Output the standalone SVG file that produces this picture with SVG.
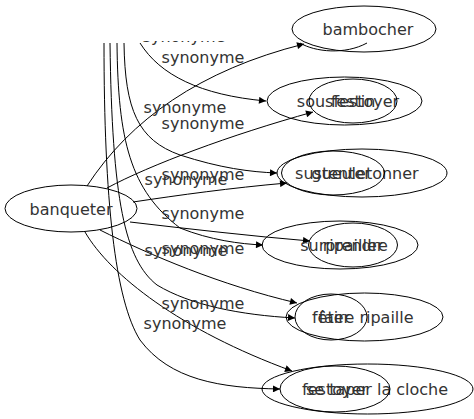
<svg xmlns="http://www.w3.org/2000/svg" width="474" height="419" viewBox="0 0 474 419">
<style>
.n{fill:none;stroke:#000;stroke-width:1}
.t{font-family:"DejaVu Sans",sans-serif;font-size:16px;fill:#333;text-anchor:middle}
.l{font-family:"DejaVu Sans",sans-serif;font-size:16px;fill:#333;text-anchor:middle}
.e{fill:none;stroke:#000;stroke-width:1}
</style>
<defs>
<marker id="a" viewBox="0 0 10 10" refX="10" refY="5" markerWidth="10" markerHeight="7" markerUnits="userSpaceOnUse" orient="auto"><path d="M0,0L10,5L0,10z" fill="#000"/></marker>
<clipPath id="c"><rect x="0" y="41" width="300" height="20"/></clipPath>
</defs>
<rect width="474" height="419" fill="#fff"/>
<g id="connectors">
<path class="e" marker-end="url(#a)" d="M87,186 C130,120 200,70 304,44"/>
<path class="e" marker-end="url(#a)" d="M140,43 C160,75 200,95 266,101"/>
<path class="e" marker-end="url(#a)" d="M107,188 C150,165 230,135 313,112"/>
<path class="e" marker-end="url(#a)" d="M124,43 C125,110 138,140 180,155 C220,168 250,172 277,173"/>
<path class="e" marker-end="url(#a)" d="M133,202 C180,195 230,188 287,183"/>
<path class="e" marker-end="url(#a)" d="M117,43 C118,140 130,190 180,228 C210,240 240,244 263,245"/>
<path class="e" marker-end="url(#a)" d="M130,222 C190,229 250,236 310,241"/>
<path class="e" marker-end="url(#a)" d="M100,230 C150,255 220,285 297,303"/>
<path class="e" marker-end="url(#a)" d="M110,43 C112,200 125,260 157,285 C190,305 240,315 295,318"/>
<path class="e" marker-end="url(#a)" d="M85,232 C110,275 180,330 292,371"/>
<path class="e" marker-end="url(#a)" d="M104,43 C104,200 115,300 140,340 C170,380 220,388 280,389"/>
<path class="e" d="M300,43 C315,52 345,55 367,43"/>
<text class="l" x="184" y="42" clip-path="url(#c)">synonyme</text>
<text class="l" x="203" y="63">synonyme</text>
<text class="l" x="185" y="113">synonyme</text>
<text class="l" x="203" y="129">synonyme</text>
<text class="l" x="203" y="180">synonyme</text>
<text class="l" x="186" y="185">synonyme</text>
<text class="l" x="203" y="219">synonyme</text>
<text class="l" x="203" y="254">synonyme</text>
<text class="l" x="186" y="256">synonyme</text>
<text class="l" x="203" y="309">synonyme</text>
<text class="l" x="185" y="329">synonyme</text>
</g>
<g id="banqueter"><ellipse class="n" cx="71" cy="208.5" rx="66" ry="23.5"/><text class="t" x="71" y="214.5">banqueter</text></g>
<g id="bambocher"><ellipse class="n" cx="364" cy="29" rx="72" ry="23"/><text class="t" x="368" y="35">bambocher</text></g>
<g id="n2a"><ellipse class="n" cx="344.5" cy="101" rx="77.5" ry="24"/><text class="t" x="348" y="107">sousfestoyer</text></g>
<g id="n2b"><ellipse class="n" cx="353" cy="101" rx="44" ry="22"/><text class="t" x="353" y="107">festin</text></g>
<g id="n3a"><ellipse class="n" cx="362" cy="173" rx="85" ry="24"/><text class="t" x="365" y="179">gueuletonner</text></g>
<g id="n3b"><ellipse class="n" cx="333" cy="173" rx="51.5" ry="22"/><text class="t" x="333" y="179">sustenter</text></g>
<g id="n4a"><ellipse class="n" cx="340" cy="245" rx="78" ry="24"/><text class="t" x="344" y="251">surprendre</text></g>
<g id="n4b"><ellipse class="n" cx="353" cy="245" rx="44.5" ry="22"/><text class="t" x="353" y="251">ripailler</text></g>
<g id="n5a"><ellipse class="n" cx="364.5" cy="317" rx="78.5" ry="24"/><text class="t" x="366" y="323">faire ripaille</text></g>
<g id="n5b"><ellipse class="n" cx="331" cy="317" rx="36" ry="23"/><text class="t" x="331" y="323">fêter</text></g>
<g id="n6a"><ellipse class="n" cx="367.5" cy="389" rx="105.5" ry="25"/><text class="t" x="377" y="395">se taper la cloche</text></g>
<g id="n6b"><ellipse class="n" cx="335" cy="389" rx="55" ry="23"/><text class="t" x="335" y="395">festoyer</text></g>
</svg>
